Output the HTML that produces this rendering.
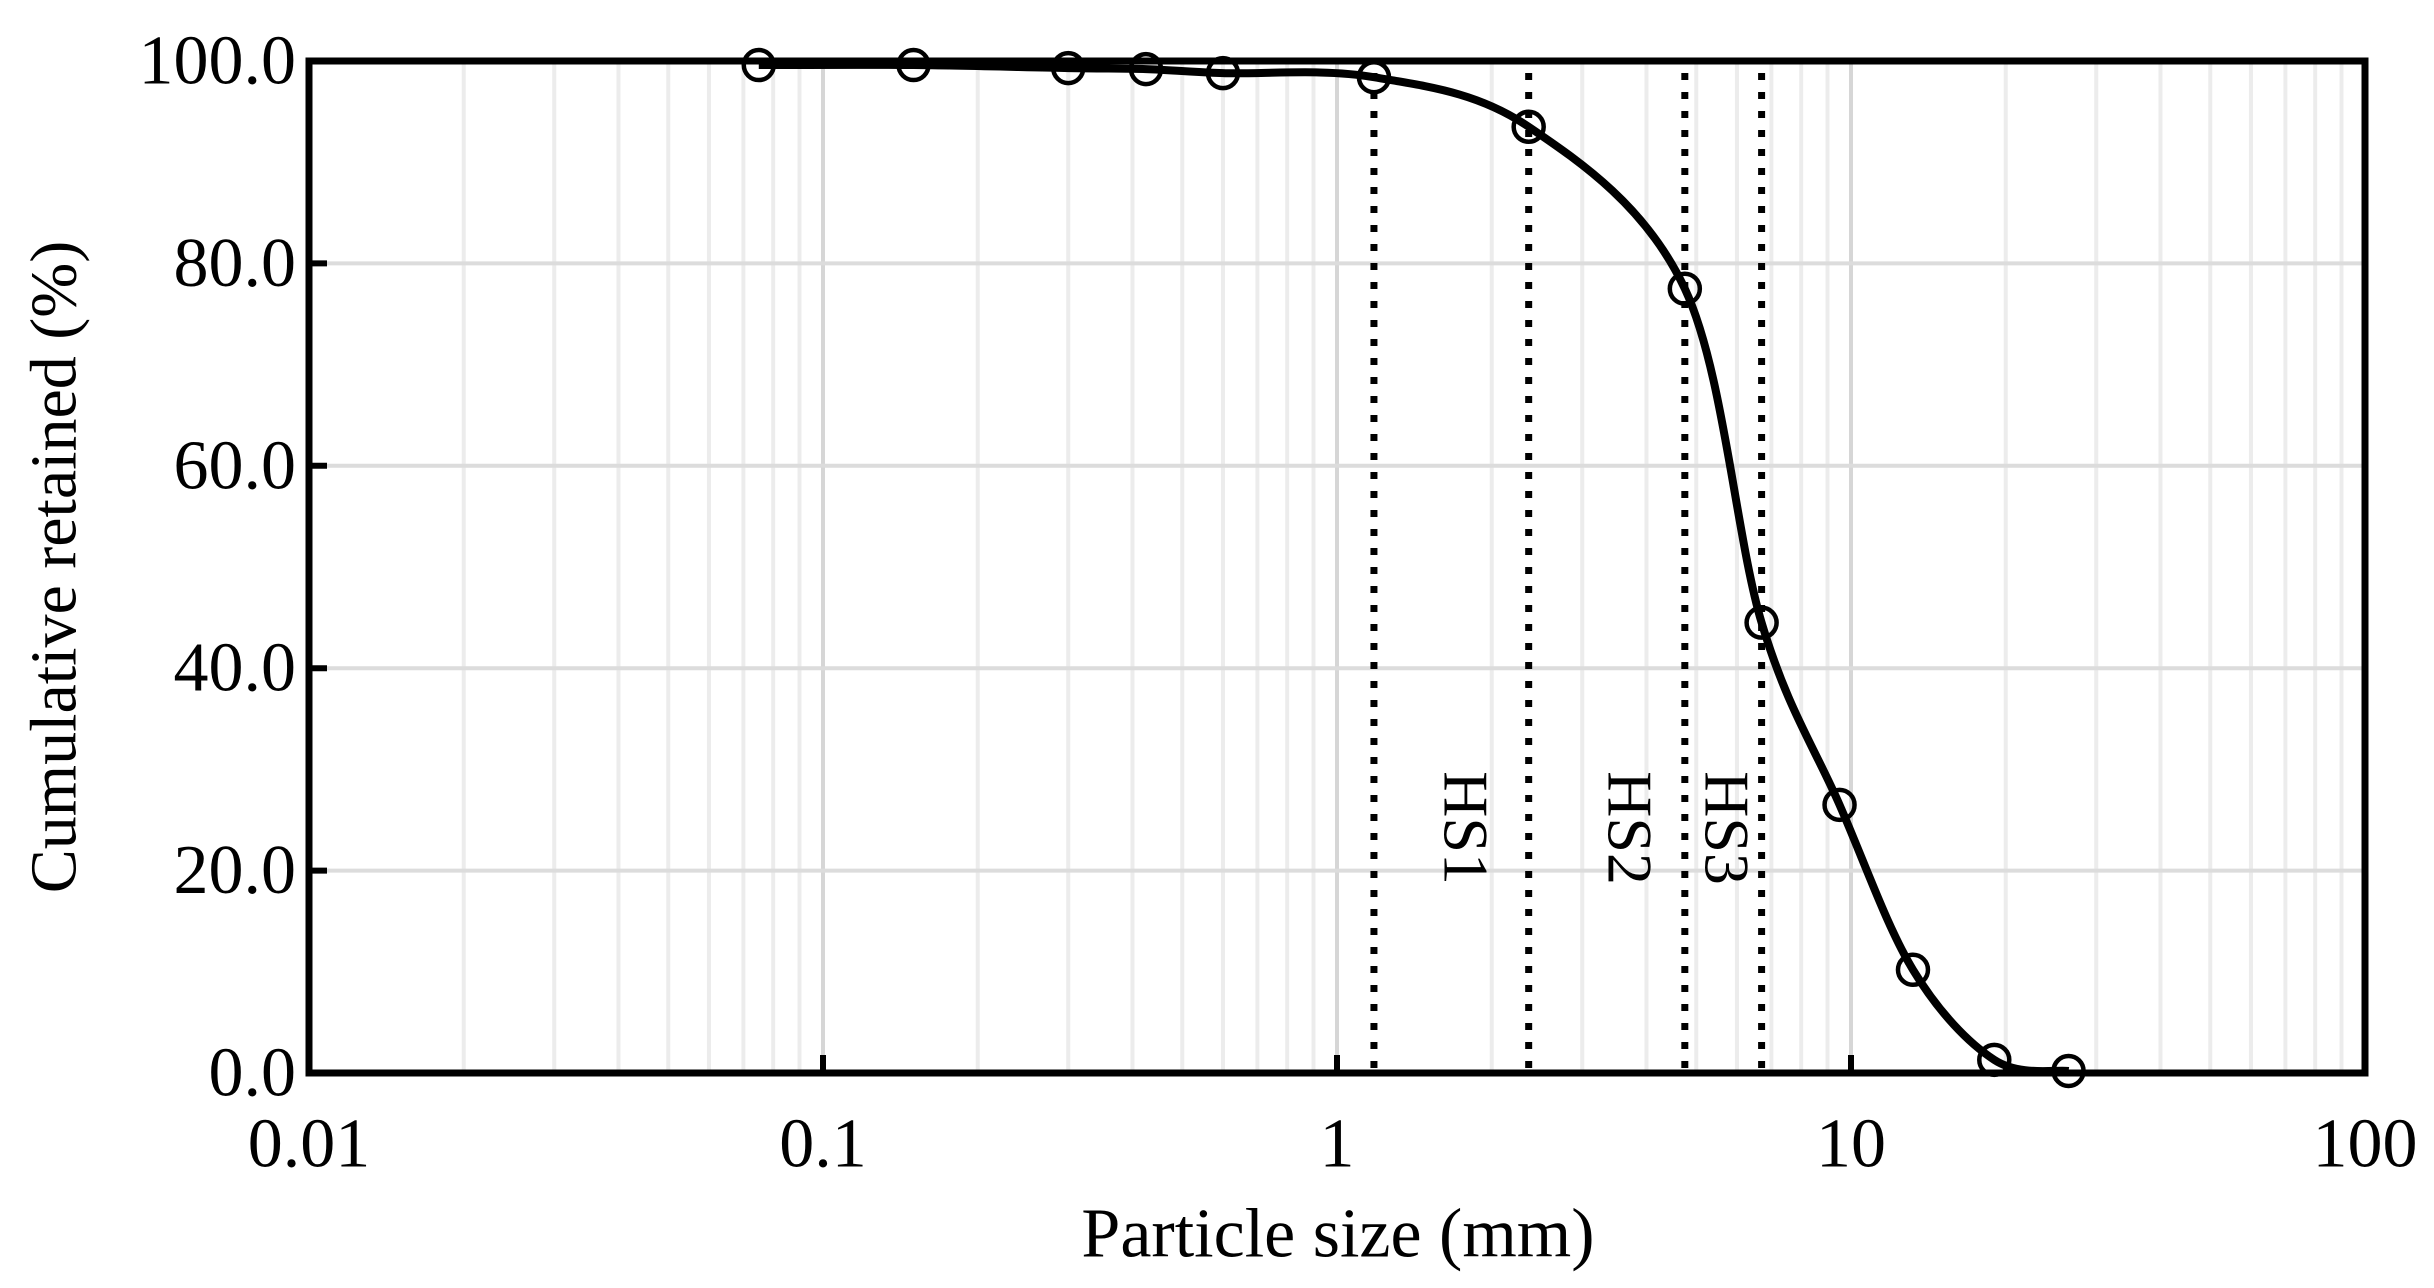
<!DOCTYPE html>
<html><head><meta charset="utf-8"><style>
html,body{margin:0;padding:0;background:#fff;}
svg{display:block;font-family:"Liberation Serif",serif;}
</style></head><body>
<svg id="s" width="2434" height="1288" viewBox="0 0 2434 1288" xmlns="http://www.w3.org/2000/svg"></svg>
<script>
const L=309,R=2365,T=61,B=1073,D=(R-L)/4;
const X=v=>L+(Math.log10(v)+2)*D, Y=v=>B-(v/100)*(B-T);
let h='';
for(let d=-2;d<2;d++)for(let k=2;k<=9;k++){const x=X(k*Math.pow(10,d));h+=`<line x1="${x}" y1="${T}" x2="${x}" y2="${B}" stroke="#ececec" stroke-width="4"/>`;}
for(let d=-1;d<2;d++){const x=X(Math.pow(10,d));h+=`<line x1="${x}" y1="${T}" x2="${x}" y2="${B}" stroke="#d6d6d6" stroke-width="4"/><line x1="${x}" y1="${B-18}" x2="${x}" y2="${B}" stroke="#000" stroke-width="6"/>`;}
for(let v=20;v<100;v+=20){const y=Y(v);h+=`<line x1="${L}" y1="${y}" x2="${R}" y2="${y}" stroke="#dcdcdc" stroke-width="4"/><line x1="${L}" y1="${y}" x2="${L+18}" y2="${y}" stroke="#000" stroke-width="6"/>`;}
[1.18,2.36,4.75,6.7].forEach(v=>{const x=X(v);h+=`<line x1="${x}" y1="${T+12}" x2="${x}" y2="${B}" stroke="#000" stroke-width="7" stroke-dasharray="7 12"/>`;});
[["HS1",1466],["HS2",1630],["HS3",1727]].forEach(([t,x])=>{h+=`<text transform="translate(${x},828) rotate(90)" font-size="64" text-anchor="middle" dominant-baseline="central">${t}</text>`;});
const xs=[0.075,0.15,0.3,0.425,0.6,1.18,2.36,4.75,6.7,9.5,13.2,19,26.5];
const ys=[99.6,99.6,99.3,99.2,98.8,98.4,93.5,77.5,44.5,26.5,10.2,1.3,0.2];
const P=xs.map((v,i)=>[X(v),Y(ys[i])]);
let d=`M${P[0][0]},${P[0][1]}`;
for(let i=0;i<P.length-1;i++){const p0=P[Math.max(0,i-1)],p1=P[i],p2=P[i+1],p3=P[Math.min(P.length-1,i+2)];
const c1=[p1[0]+(p2[0]-p0[0])/6,p1[1]+(p2[1]-p0[1])/6],c2=[p2[0]-(p3[0]-p1[0])/6,p2[1]-(p3[1]-p1[1])/6];
d+=` C${c1[0]},${c1[1]} ${c2[0]},${c2[1]} ${p2[0]},${p2[1]}`;}
h+=`<path d="${d}" fill="none" stroke="#000" stroke-width="8"/>`;
P.forEach(p=>{h+=`<circle cx="${p[0]}" cy="${p[1]}" r="15" fill="none" stroke="#000" stroke-width="4.5"/>`;});
h+=`<rect x="${L}" y="${T}" width="${R-L}" height="${B-T}" fill="none" stroke="#000" stroke-width="7"/>`;
for(let v=0;v<=100;v+=20)h+=`<text x="296" y="${Y(v)}" font-size="70" text-anchor="end" dominant-baseline="central">${v.toFixed(1)}</text>`;
["0.01","0.1","1","10","100"].forEach((t,i)=>{h+=`<text x="${L+i*D}" y="1144" font-size="70" text-anchor="middle" dominant-baseline="central">${t}</text>`;});
h+=`<text x="1338" y="1234" font-size="70" text-anchor="middle" dominant-baseline="central">Particle size (mm)</text>`;
h+=`<text transform="translate(54,567) rotate(-90)" font-size="66" text-anchor="middle" dominant-baseline="central">Cumulative retained (%)</text>`;
document.getElementById('s').innerHTML=h;
</script>
</body></html>
